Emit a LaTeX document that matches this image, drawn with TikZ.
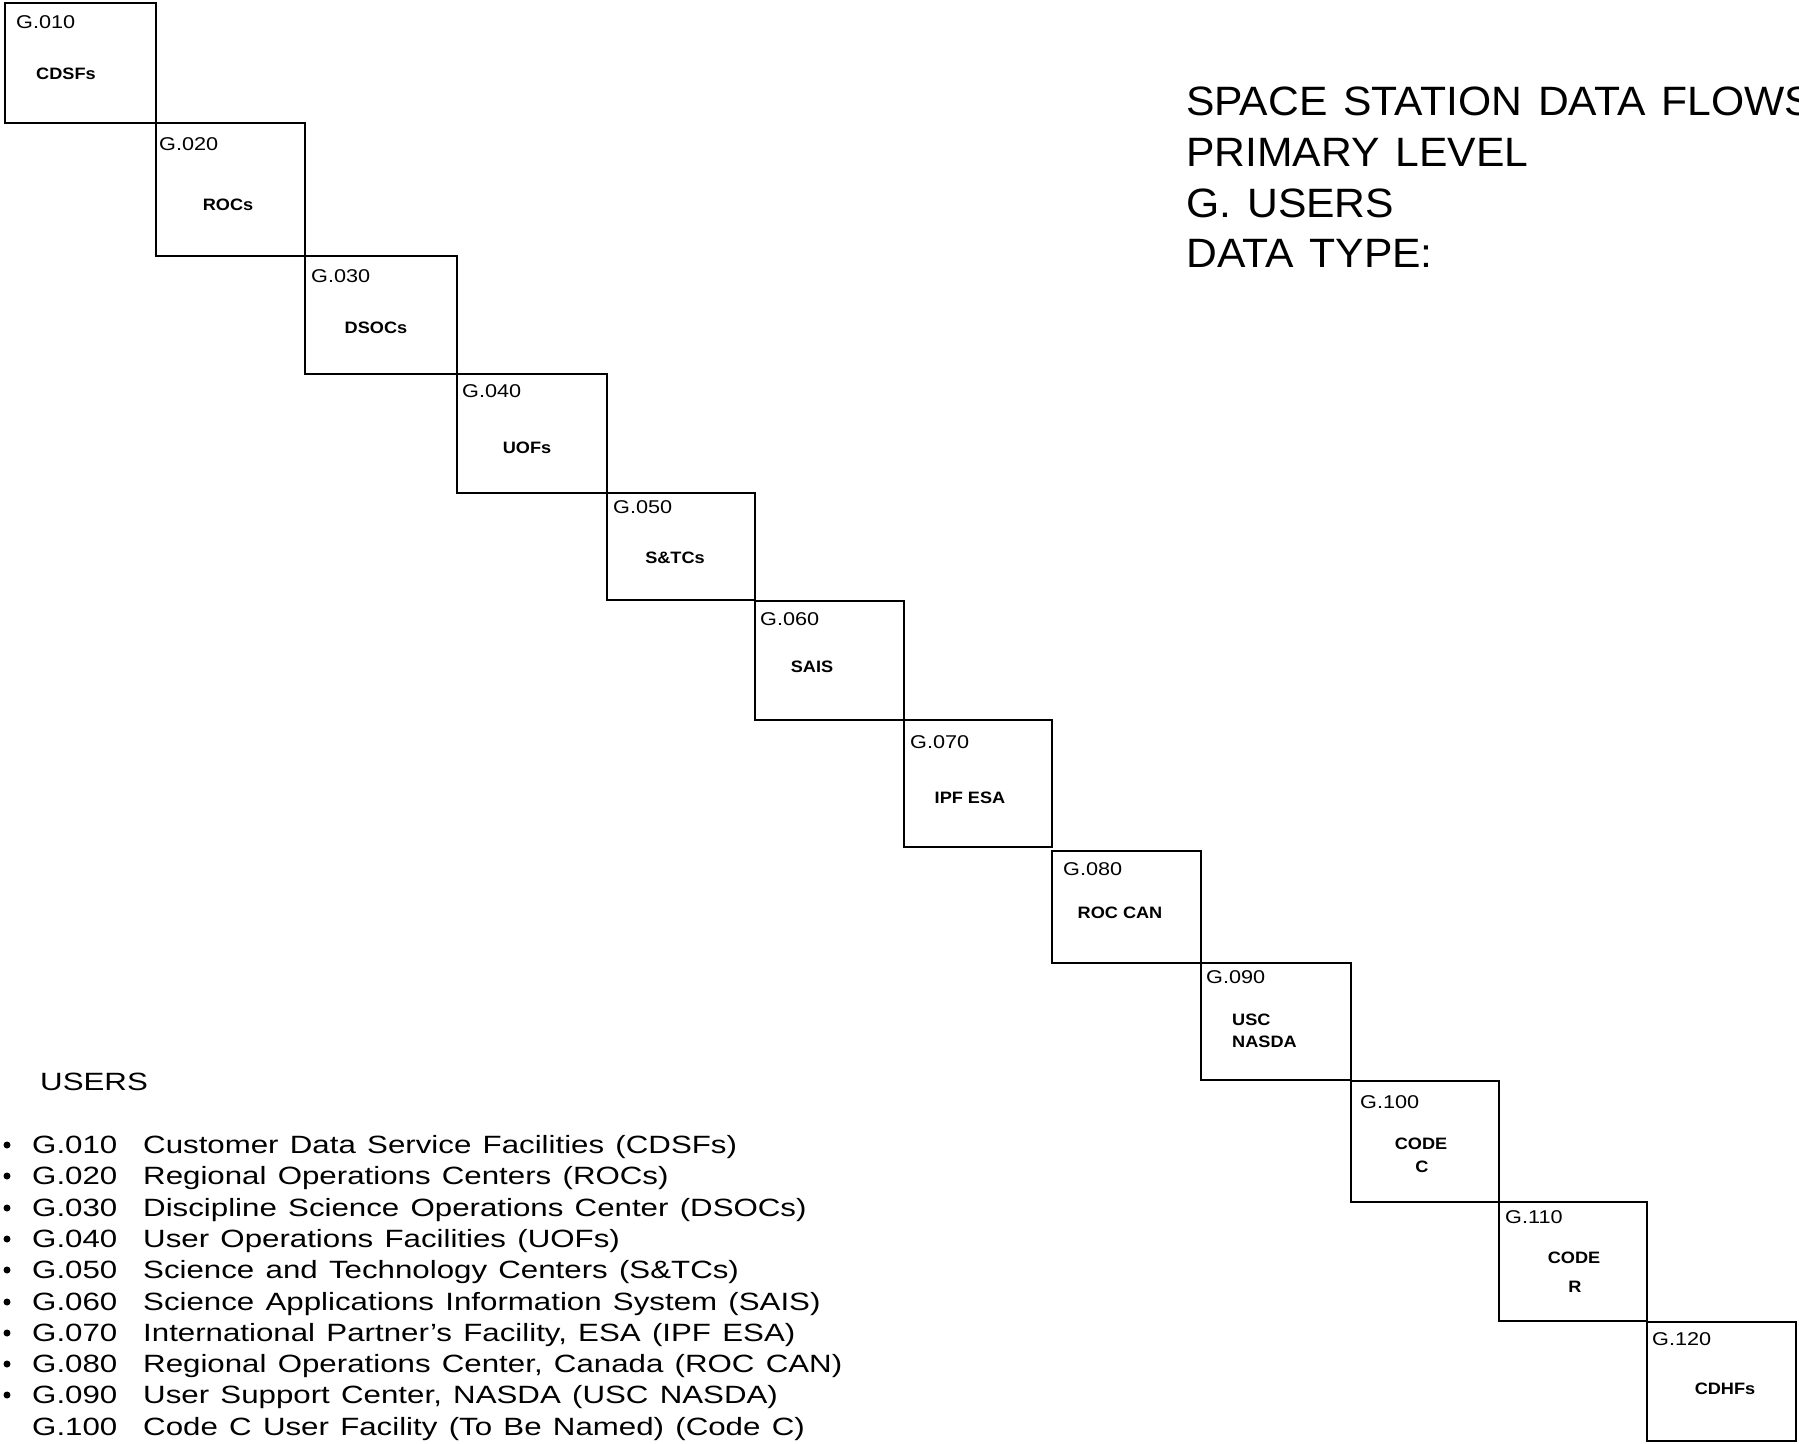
\documentclass[tikz,border=0pt]{standalone}
\usepackage{fontspec}
\setmainfont{Liberation Sans}
\newfontfamily\titf[FakeStretch=1.04,WordSpace=1.35]{Liberation Sans}
\newfontfamily\legf[FakeStretch=1.25,WordSpace=1.3]{Liberation Sans}
\newfontfamily\boxf[FakeStretch=1.17]{Liberation Sans}
\newfontfamily\namef[FakeStretch=1.1]{Liberation Sans}
\tikzset{
  ubox/.style={draw, line width=1.8pt, inner sep=0pt, outer sep=0pt, anchor=north west},
  idlab/.style={anchor=base west, inner sep=0pt, font=\boxf\fontsize{18.5}{20}\selectfont},
  namelab/.style={anchor=base, inner sep=0pt, font=\namef\bfseries\fontsize{16.5}{20}\selectfont},
  namelabw/.style={namelab, anchor=base west},
  ttl/.style={anchor=base west, inner sep=0pt, font=\titf\fontsize{41}{47}\selectfont},
  leg/.style={anchor=base west, inner sep=0pt, font=\legf\fontsize{25}{30}\selectfont},
  dotb/.style={circle, fill, inner sep=0pt, minimum size=7pt},
}
\newcommand\ubx[5]{\node[ubox, minimum width=#4pt, minimum height=#5pt] (#1) at (#2,#3) {};}
\begin{document}
\begin{tikzpicture}[x=1pt,y=-1pt]
\useasboundingbox[fill=white] (0,0) rectangle (1799,1443);

% boxes
\ubx{b010}{5}{3}{151}{120}
\ubx{b020}{156}{123}{149}{133}
\ubx{b030}{305}{256}{152}{118}
\ubx{b040}{457}{374}{150}{119}
\ubx{b050}{607}{493}{148}{107}
\ubx{b060}{755}{601}{149}{119}
\ubx{b070}{904}{720}{148}{127}
\ubx{b080}{1052}{851}{149}{112}
\ubx{b090}{1201}{963}{150}{117}
\ubx{b100}{1351}{1081}{148}{121}
\ubx{b110}{1499}{1202}{148}{119}
\ubx{b120}{1647}{1322}{149}{119}

% ids
\node[idlab] (i010) at (16,28) {G.010};
\node[idlab] (i020) at (159,150) {G.020};
\node[idlab] (i030) at (311,282) {G.030};
\node[idlab] (i040) at (462,397) {G.040};
\node[idlab] (i050) at (613,513) {G.050};
\node[idlab] (i060) at (760,625) {G.060};
\node[idlab] (i070) at (910,748) {G.070};
\node[idlab] (i080) at (1063,875) {G.080};
\node[idlab] (i090) at (1206,983) {G.090};
\node[idlab] (i100) at (1360,1108) {G.100};
\node[idlab] (i110) at (1505,1223) {G.110};
\node[idlab] (i120) at (1652,1345) {G.120};

% names
\node[namelab] (n010) at (66,79) {CDSFs};
\node[namelab] (n020) at (228,210) {ROCs};
\node[namelab] (n030) at (376,333) {DSOCs};
\node[namelab] (n040) at (527,453) {UOFs};
\node[namelab] (n050) at (675,563) {S\&TCs};
\node[namelab] (n060) at (812,672) {SAIS};
\node[namelab] (n070) at (970,803) {IPF ESA};
\node[namelab] (n080) at (1120,918) {ROC CAN};
\node[namelabw] (n090a) at (1232,1025) {USC};
\node[namelabw] (n090b) at (1232,1047) {NASDA};
\node[namelab] (n100a) at (1421,1149) {CODE};
\node[namelab] (n100b) at (1422,1172) {C};
\node[namelab] (n110a) at (1574,1263) {CODE};
\node[namelab] (n110b) at (1575,1292) {R};
\node[namelab] (n120) at (1725,1394) {CDHFs};

% title
\node[ttl] (t1) at (1186,115) {SPACE STATION DATA FLOWS};
\node[ttl] (t2) at (1186,166) {PRIMARY LEVEL};
\node[ttl] (t3) at (1186,217) {G. USERS};
\node[ttl] (t4) at (1186,267) {DATA TYPE:};

% legend
\node[leg] (users) at (40,1090) {USERS};
\node[dotb] (p1) at (7,1145) {};
\node[leg] (c1) at (32,1153) {G.010};
\node[leg] (d1) at (143,1153) {Customer Data Service Facilities (CDSFs)};
\node[dotb] (p2) at (7,1176) {};
\node[leg] (c2) at (32,1184) {G.020};
\node[leg] (d2) at (143,1184) {Regional Operations Centers (ROCs)};
\node[dotb] (p3) at (7,1208) {};
\node[leg] (c3) at (32,1216) {G.030};
\node[leg] (d3) at (143,1216) {Discipline Science Operations Center (DSOCs)};
\node[dotb] (p4) at (7,1239) {};
\node[leg] (c4) at (32,1247) {G.040};
\node[leg] (d4) at (143,1247) {User Operations Facilities (UOFs)};
\node[dotb] (p5) at (7,1270) {};
\node[leg] (c5) at (32,1278) {G.050};
\node[leg] (d5) at (143,1278) {Science and Technology Centers (S\&TCs)};
\node[dotb] (p6) at (7,1302) {};
\node[leg] (c6) at (32,1310) {G.060};
\node[leg] (d6) at (143,1310) {Science Applications Information System (SAIS)};
\node[dotb] (p7) at (7,1333) {};
\node[leg] (c7) at (32,1341) {G.070};
\node[leg] (d7) at (143,1341) {International Partner’s Facility, ESA (IPF ESA)};
\node[dotb] (p8) at (7,1364) {};
\node[leg] (c8) at (32,1372) {G.080};
\node[leg] (d8) at (143,1372) {Regional Operations Center, Canada (ROC CAN)};
\node[dotb] (p9) at (7,1395) {};
\node[leg] (c9) at (32,1403) {G.090};
\node[leg] (d9) at (143,1403) {User Support Center, NASDA (USC NASDA)};
\node[leg] (c10) at (32,1435) {G.100};
\node[leg] (d10) at (143,1435) {Code C User Facility (To Be Named) (Code C)};
\end{tikzpicture}
\end{document}
